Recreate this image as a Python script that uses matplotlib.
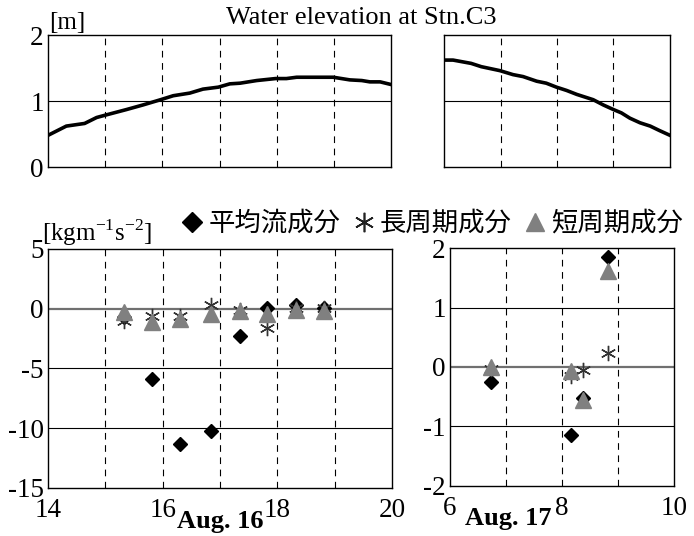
import matplotlib
matplotlib.use("Agg")
import matplotlib.pyplot as plt
from matplotlib.lines import Line2D

plt.rcParams['font.family'] = ['Liberation Serif', 'DejaVu Serif']
plt.rcParams['mathtext.fontset'] = 'custom'
plt.rcParams['mathtext.rm'] = 'Liberation Serif'
plt.rcParams['axes.unicode_minus'] = False

# water elevation, Aug. 16 (hours) and Aug. 17 (hours)
wl_x16 = [14.0, 14.32, 14.64, 14.85, 15.02, 15.37, 15.66, 15.97, 16.19, 16.48, 16.71,
          16.98, 17.18, 17.36, 17.65, 17.98, 18.17, 18.35, 18.99, 19.28, 19.49, 19.63,
          19.81, 20.0]
wl_y16 = [0.48, 0.62, 0.66, 0.75, 0.79, 0.87, 0.94, 1.02, 1.08, 1.12, 1.18,
          1.21, 1.26, 1.27, 1.31, 1.34, 1.34, 1.36, 1.36, 1.32, 1.31, 1.29,
          1.29, 1.25]
wl_x17 = [6.0, 6.16, 6.48, 6.66, 6.99, 7.22, 7.40, 7.64, 7.81, 7.99, 8.17, 8.35,
          8.64, 8.82, 9.0, 9.14, 9.29, 9.47, 9.65, 9.82, 10.0]
wl_y17 = [1.62, 1.62, 1.57, 1.52, 1.46, 1.40, 1.37, 1.30, 1.27, 1.21, 1.16, 1.10,
          1.02, 0.94, 0.87, 0.82, 0.74, 0.67, 0.62, 0.55, 0.48]

# flux components [kgm-1s-2]
t16 = [15.33, 15.82, 16.31, 16.84, 17.34, 17.82, 18.33, 18.82]
mean16 = [-0.7, -5.9, -11.3, -10.2, -2.3, 0.1, 0.3, 0.1]
long16 = [-1.0, -0.6, -0.6, 0.3, -0.1, -1.6, 0.1, 0.05]
short16 = [-0.3, -1.1, -0.9, -0.4, -0.2, -0.4, -0.1, -0.2]

t17 = [6.73, 8.16, 8.38, 8.82]
mean17 = [-0.25, -1.15, -0.52, 1.85]
long17 = [-0.04, -0.15, -0.05, 0.24]
short17 = [0.0, -0.06, -0.55, 1.62]

legend_labels = ['平均流成分', '長周期成分', '短周期成分']

TICK_FS = 19.5
GRAY = '#808080'


def frame(ax, xlim, ylim, vlines, hlines, zero_gray=False):
    ax.set_xlim(*xlim)
    ax.set_ylim(*ylim)
    for v in vlines:
        ax.axvline(v, color='black', lw=0.8, ls=(0, (6, 5)), zorder=1)
    for h in hlines:
        if zero_gray and h == 0:
            ax.axhline(h, color='#707070', lw=1.6, zorder=1)
        else:
            ax.axhline(h, color='black', lw=0.8, zorder=1)
    for s in ax.spines.values():
        s.set_linewidth(1.0)
    ax.tick_params(length=0, labelsize=TICK_FS, pad=3)
    ax.tick_params(axis='x', pad=7)


def scatter(ax, t, m, l, s):
    ax.plot(t, m, ls='none', marker='D', ms=7.5, color='black', zorder=3)
    ax.plot(t, l, ls='none', marker=(6, 2, 0), ms=11, color='#333333', mew=1.0, zorder=4)
    ax.plot(t, s, ls='none', marker='^', ms=11, color=GRAY, zorder=5)


fig = plt.figure(figsize=(6.94, 5.36), dpi=100)

# top panels: water elevation
ax1 = fig.add_axes([0.0692, 0.6884, 0.4942, 0.2463])
frame(ax1, (14, 20), (0, 2), [15, 16, 17, 18, 19], [1])
ax1.plot(wl_x16, wl_y16, color='black', lw=2.6, zorder=3)
ax1.set_xticks([])
ax1.set_yticks([0, 1, 2])

ax2 = fig.add_axes([0.6398, 0.6884, 0.3256, 0.2463])
frame(ax2, (6, 10), (0, 2), [7, 8, 9], [1])
ax2.plot(wl_x17, wl_y17, color='black', lw=2.6, zorder=3)
ax2.set_xticks([])
ax2.set_yticks([])

# bottom panels: flux components
ax3 = fig.add_axes([0.0692, 0.0896, 0.4957, 0.4459])
frame(ax3, (14, 20), (-15, 5), [15, 16, 17, 18, 19], [0, -5, -10], zero_gray=True)
scatter(ax3, t16, mean16, long16, short16)
ax3.set_xticks([14, 16, 18, 20])
ax3.set_yticks([-15, -10, -5, 0, 5])

ax4 = fig.add_axes([0.6484, 0.0933, 0.3228, 0.444])
frame(ax4, (6, 10), (-2, 2), [7, 8, 9], [-1, 0, 1], zero_gray=True)
scatter(ax4, t17, mean17, long17, short17)
ax4.set_xticks([6, 8, 10])
ax4.set_yticks([-2, -1, 0, 1, 2])

# texts
fig.text(0.071, 0.958, '[m]', fontsize=18, ha='left', va='center')
fig.text(0.52, 0.966, 'Water elevation at Stn.C3', fontsize=19, ha='center', va='center')
fig.text(0.060, 0.566, '[kgm$^{\\mathrm{-1}}$s$^{\\mathrm{-2}}$]', fontsize=18,
         ha='left', va='center')
fig.text(0.318, 0.027, 'Aug. 16', fontsize=19, fontweight='bold', ha='center', va='center')
fig.text(0.732, 0.032, 'Aug. 17', fontsize=19, fontweight='bold', ha='center', va='center')

handles = [
    Line2D([], [], ls='none', marker='D', ms=10, color='black'),
    Line2D([], [], ls='none', marker=(6, 2, 0), ms=14, color='#222222', mew=1.2),
    Line2D([], [], ls='none', marker='^', ms=13, color=GRAY),
]
fig.legend(handles, legend_labels, loc='center', bbox_to_anchor=(0.623, 0.583), ncol=3,
           frameon=False, handlelength=0.8, handletextpad=0.2, columnspacing=0.5,
           prop={'family': ['Noto Sans CJK JP', 'DejaVu Sans'], 'size': 19})

fig.savefig('out.png', dpi=100)
